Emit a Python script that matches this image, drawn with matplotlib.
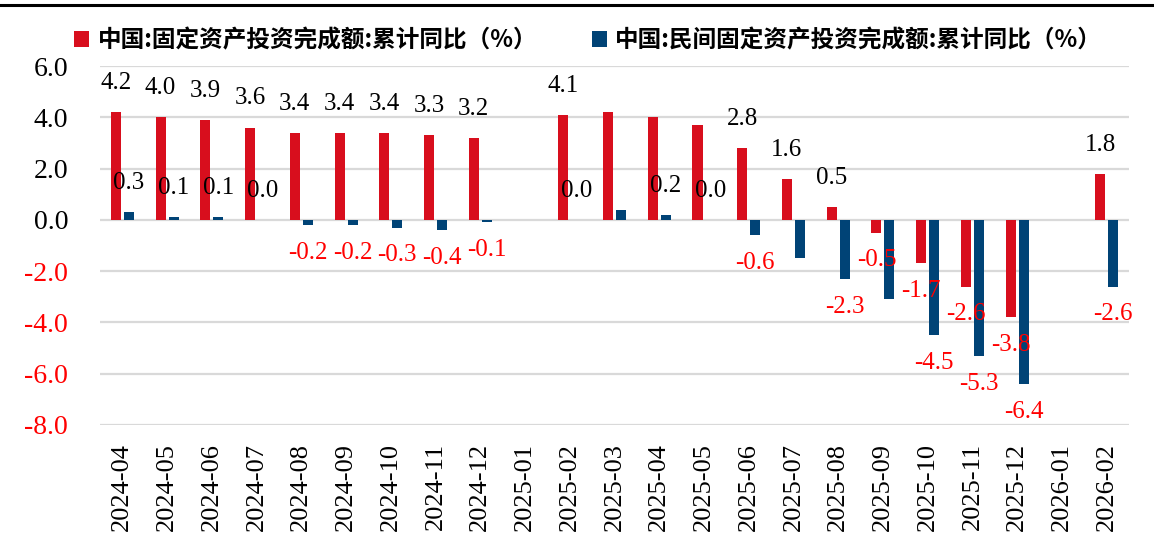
import numpy as np
import matplotlib
matplotlib.use('Agg')
import matplotlib.pyplot as plt
from matplotlib.patches import Patch
from matplotlib.lines import Line2D

months = ['2024-04', '2024-05', '2024-06', '2024-07', '2024-08', '2024-09',
          '2024-10', '2024-11', '2024-12', '2025-01', '2025-02', '2025-03',
          '2025-04', '2025-05', '2025-06', '2025-07', '2025-08', '2025-09',
          '2025-10', '2025-11', '2025-12', '2026-01', '2026-02']
fai_total = [4.2, 4.0, 3.9, 3.6, 3.4, 3.4, 3.4, 3.3, 3.2, np.nan, 4.1, 4.2,
             4.0, 3.7, 2.8, 1.6, 0.5, -0.5, -1.7, -2.6, -3.8, np.nan, 1.8]
fai_private = [0.3, 0.1, 0.1, 0.0, -0.2, -0.2, -0.3, -0.4, -0.1, np.nan, 0.0, 0.4,
               0.2, 0.0, -0.6, -1.5, -2.3, -3.1, -4.5, -5.3, -6.4, np.nan, -2.6]
# months whose value label is not shown in the original
total_hidden = ['2025-03', '2025-04', '2025-05']
private_hidden = ['2025-03', '2025-07', '2025-09']

name_total = '中国:固定资产投资完成额:累计同比（%）'
name_private = '中国:民间固定资产投资完成额:累计同比（%）'

RED = '#d80e1d'
BLUE = '#004376'
NEG = '#ff0000'
SERIF = 'Liberation Serif'

fig = plt.figure(figsize=(11.54, 5.46), dpi=100)
ax = fig.add_axes([100 / 1154, 1 - 425 / 546, 1029 / 1154, 359 / 546])

x = np.arange(len(months))
w = 0.225
ax.bar(x - 0.145, fai_total, w, color=RED, zorder=3)
ax.bar(x + 0.145, fai_private, w, color=BLUE, zorder=3)

ax.set_xlim(-0.5, len(months) - 0.5)
ax.set_ylim(-8, 6)
ax.set_yticks(np.arange(-8, 7, 2))
ax.yaxis.grid(True, color='#d9d9d9', linewidth=1.6)
ax.set_axisbelow(True)
for s in ax.spines.values():
    s.set_visible(False)

ax.set_xticks(x)
ax.set_xticklabels(months, rotation=90, fontsize=19, family=SERIF)
ax.set_yticklabels([f'{v:.1f}' for v in np.arange(-8, 7, 2)], fontsize=20, family=SERIF)
for lab, v in zip(ax.get_yticklabels(), np.arange(-8, 7, 2)):
    lab.set_color(NEG if v < 0 else 'black')
ax.tick_params(axis='x', length=0, pad=13)
ax.tick_params(axis='y', length=0, pad=23)

# value labels
def put_labels(xs, vals, hidden):
    for xi, v, m in zip(xs, vals, months):
        if np.isnan(v) or m in hidden:
            continue
        off = 21 if v >= 0 else -20
        ax.annotate(f'{v:.1f}', (xi, v), xytext=(0, off), textcoords='offset points',
                    ha='center', va='center', fontsize=18, family=SERIF,
                    color=NEG if v < 0 else 'black', zorder=4)

put_labels(x - 0.145, fai_total, total_hidden)
put_labels(x + 0.145, fai_private, private_hidden)

handles = [Patch(facecolor=RED, edgecolor='none'), Patch(facecolor=BLUE, edgecolor='none')]
fig.legend(handles, [name_total, name_private], ncol=2, frameon=False,
           loc='center left', bbox_to_anchor=(74 / 1154, 1 - 40 / 546),
           borderpad=0, borderaxespad=0,
           handlelength=0.65, handleheight=0.65, handletextpad=0.35, columnspacing=2.3,
           prop={'family': ['Noto Sans CJK SC', 'DejaVu Sans'], 'size': 17, 'weight': 'bold'})

# black rule across the top
fig.add_artist(Line2D([0, 1], [1 - 4.7 / 546] * 2, color='black', linewidth=2.2,
                      transform=fig.transFigure))

fig.savefig('out.png', dpi=100)
